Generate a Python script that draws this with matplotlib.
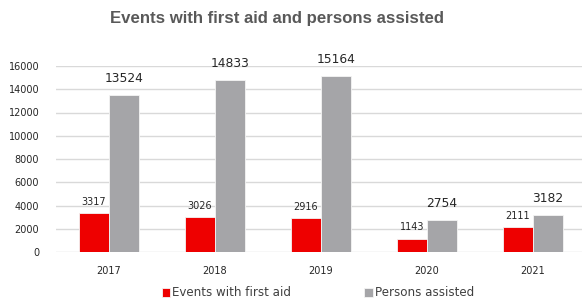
import matplotlib.pyplot as plt
import numpy as np

years = ['2017', '2018', '2019', '2020', '2021']
events = [3317, 3026, 2916, 1143, 2111]
persons = [13524, 14833, 15164, 2754, 3182]

red = '#EE0000'
grey = '#A5A5A8'

fig = plt.figure(figsize=(5.82, 3.02), dpi=100)
ax = fig.add_axes([56 / 582, 1 - 252 / 302, 530 / 582, 186 / 302])

x = np.arange(len(years))
w = 0.283
b1 = ax.bar(x - w / 2, events, w, color=red, edgecolor='#F4F4F4', linewidth=0.6,
            label='Events with first aid', zorder=3)
b2 = ax.bar(x + w / 2, persons, w, color=grey, edgecolor='#F4F4F4', linewidth=0.6,
            label='Persons assisted', zorder=3)

for rect, v in zip(b1, events):
    ax.annotate(str(v), (rect.get_x() + rect.get_width() / 2, v), xytext=(0, 4.5),
                textcoords='offset points', ha='center', va='bottom', fontsize=7, color='#262626')
for rect, v in zip(b2, persons):
    ax.annotate(str(v), (rect.get_x() + rect.get_width() / 2, v), xytext=(0, 7),
                textcoords='offset points', ha='center', va='bottom', fontsize=8.8, color='#262626')

ax.set_xlim(-0.5, len(years) - 0.5)
ax.set_ylim(0, 16000)
ax.set_yticks(range(0, 16001, 2000))
ax.set_xticks(x)
ax.set_xticklabels(years)
ax.tick_params(axis='both', length=0, labelsize=7, colors='#262626')
ax.tick_params(axis='x', pad=10)
ax.tick_params(axis='y', pad=12)
ax.grid(axis='y', color='#D9D9D9', linewidth=1, zorder=0)
for s in ax.spines.values():
    s.set_visible(False)

fig.text(277 / 582, 1 - 18 / 302, 'Events with first aid and persons assisted',
         ha='center', va='center', fontsize=12.1, fontweight='bold', color='#595959',
         family='Liberation Sans')

fig.legend(handles=[b1, b2], loc='center', bbox_to_anchor=(318 / 582, 1 - 293 / 302),
           ncol=2, frameon=False, fontsize=8.6, handlelength=0.7, handleheight=0.7,
           handletextpad=0.2, columnspacing=6.1, labelcolor='#404040')

fig.savefig('out.png', dpi=100)
